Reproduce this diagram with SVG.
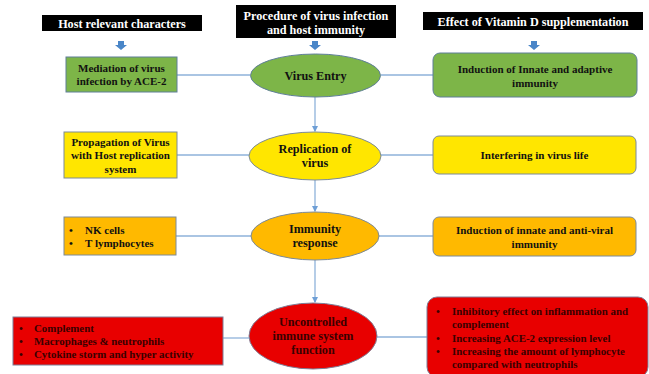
<svg xmlns="http://www.w3.org/2000/svg" width="649" height="374" viewBox="0 0 649 374">
<defs>
<style>
text{font-family:"Liberation Serif","Times New Roman",serif;font-weight:bold;fill:#111;}
.hd{fill:#fff;font-size:12.2px;}
.t{font-size:11px;text-anchor:middle;}
.e{font-size:12.2px;text-anchor:middle;}
.r{fill:#3a0000;font-size:10.9px;}
.b{font-size:11px;}
.hbox{fill:#000;}
.g{fill:#7DB548;stroke:#5F7F98;stroke-width:1;}
.y{fill:#FFE600;stroke:#7C8A98;stroke-width:1;}
.o{fill:#FFB900;stroke:#7C8A98;stroke-width:1;}
.rd{fill:#E80000;stroke:#7C7F98;stroke-width:1;}
.c{stroke:#8EB2DA;stroke-width:1.3;fill:none;}
.blue{fill:#4A86C8;}
</style>
<marker id="ah" viewBox="0 0 6 6" refX="5" refY="3" markerWidth="5" markerHeight="5" orient="auto">
<path d="M0,0 L6,3 L0,6 z" fill="#6E9FD6"/>
</marker>
</defs>
<rect width="649" height="374" fill="#fff"/>

<g id="headers">
<g id="h1"><rect class="hbox" x="42" y="15" width="160" height="16"/><text class="hd" x="122" y="27.5" text-anchor="middle">Host relevant characters</text></g>
<g id="h2"><rect class="hbox" x="236" y="5" width="160" height="33"/><text class="hd" x="316" y="19.5" text-anchor="middle">Procedure of virus infection</text><text class="hd" x="316" y="34" text-anchor="middle">and host immunity</text></g>
<g id="h3"><rect class="hbox" x="423" y="12" width="220" height="18"/><text class="hd" x="533" y="25.5" text-anchor="middle">Effect of Vitamin D supplementation</text></g>
</g>

<g id="small-arrows">
<path class="blue" d="M118,41 h6 v4 h3 l-6,5 l-6,-5 h3 z"/>
<path class="blue" d="M312,41 h6 v4 h3 l-6,5 l-6,-5 h3 z"/>
<path class="blue" d="M531,41 h6 v4 h3 l-6,5 l-6,-5 h3 z"/>
</g>

<g id="connectors">
<line class="c" x1="177" y1="75" x2="250" y2="75"/>
<line class="c" x1="381" y1="75" x2="433" y2="75"/>
<line class="c" x1="177" y1="155" x2="249" y2="155"/>
<line class="c" x1="381" y1="155" x2="433" y2="155"/>
<line class="c" x1="176" y1="236" x2="251" y2="236"/>
<line class="c" x1="379" y1="236" x2="433" y2="236"/>
<line class="c" x1="223" y1="338" x2="249" y2="338"/>
<line class="c" x1="377" y1="337" x2="427" y2="337"/>
<line class="c" x1="315" y1="97" x2="315" y2="131" marker-end="url(#ah)"/>
<line class="c" x1="315" y1="180" x2="315" y2="211" marker-end="url(#ah)"/>
<line class="c" x1="315" y1="260" x2="315" y2="302" marker-end="url(#ah)"/>
</g>

<g id="n-mediation"><rect class="g" x="66" y="57" width="111" height="35"/><text class="t" x="121.5" y="72">Mediation of virus</text><text class="t" x="121.5" y="85">infection by ACE-2</text></g>
<g id="n-entry"><ellipse class="g" cx="315.5" cy="75.5" rx="65" ry="21.5"/><text class="e" x="315.5" y="80">Virus Entry</text></g>
<g id="n-induction1"><rect class="g" x="433" y="53" width="204" height="44" rx="7"/><text class="t" x="535" y="73">Induction of Innate and adaptive</text><text class="t" x="535" y="87">immunity</text></g>

<g id="n-propagation"><rect class="y" x="64" y="132" width="113" height="46"/><text class="t" x="120.5" y="146">Propagation of Virus</text><text class="t" x="120.5" y="159">with Host replication</text><text class="t" x="120.5" y="172.5">system</text></g>
<g id="n-replication"><ellipse class="y" cx="315" cy="156" rx="66" ry="24"/><text class="e" x="315" y="153">Replication of</text><text class="e" x="315" y="167">virus</text></g>
<g id="n-interfering"><rect class="y" x="433" y="136" width="203" height="38" rx="6"/><text class="t" x="534.5" y="158.5">Interfering in virus life</text></g>

<g id="n-cells"><rect class="o" x="64" y="217" width="112" height="38"/><text class="b" x="69" y="233.5">•</text><text class="b" x="85" y="233.5">NK cells</text><text class="b" x="69" y="247">•</text><text class="b" x="85" y="247">T lymphocytes</text></g>
<g id="n-immunity"><ellipse class="o" cx="315" cy="236" rx="64" ry="24"/><text class="e" x="315" y="233">Immunity</text><text class="e" x="315" y="247">response</text></g>
<g id="n-induction2"><rect class="o" x="433" y="217" width="203" height="39" rx="6"/><text class="t" x="534.5" y="233.5">Induction of innate and anti-viral</text><text class="t" x="534.5" y="247.5">immunity</text></g>

<g id="n-complement"><rect class="rd" x="13" y="317" width="210" height="48"/>
<text class="r" x="19" y="331.5">•</text><text class="r" x="34" y="331.5">Complement</text>
<text class="r" x="19" y="344.5">•</text><text class="r" x="34" y="344.5">Macrophages &amp; neutrophils</text>
<text class="r" x="19" y="357.5">•</text><text class="r" x="34" y="357.5">Cytokine storm and hyper activity</text></g>
<g id="n-uncontrolled"><ellipse class="rd" cx="313" cy="336" rx="64" ry="33"/><text class="e" x="313" y="326" style="fill:#3a0000">Uncontrolled</text><text class="e" x="313" y="340" style="fill:#3a0000">immune system</text><text class="e" x="313" y="354" style="fill:#3a0000">function</text></g>
<g id="n-vitd"><rect class="rd" x="427" y="297" width="221" height="80" rx="10"/>
<text class="r" x="436" y="314.5">•</text><text class="r" x="452" y="314.5">Inhibitory effect on inflammation and</text>
<text class="r" x="452" y="327.5">complement</text>
<text class="r" x="436" y="341.5">•</text><text class="r" x="452" y="341.5">Increasing ACE-2 expression level</text>
<text class="r" x="436" y="355">•</text><text class="r" x="452" y="355">Increasing the amount of lymphocyte</text>
<text class="r" x="452" y="368">compared with neutrophils</text></g>
</svg>
